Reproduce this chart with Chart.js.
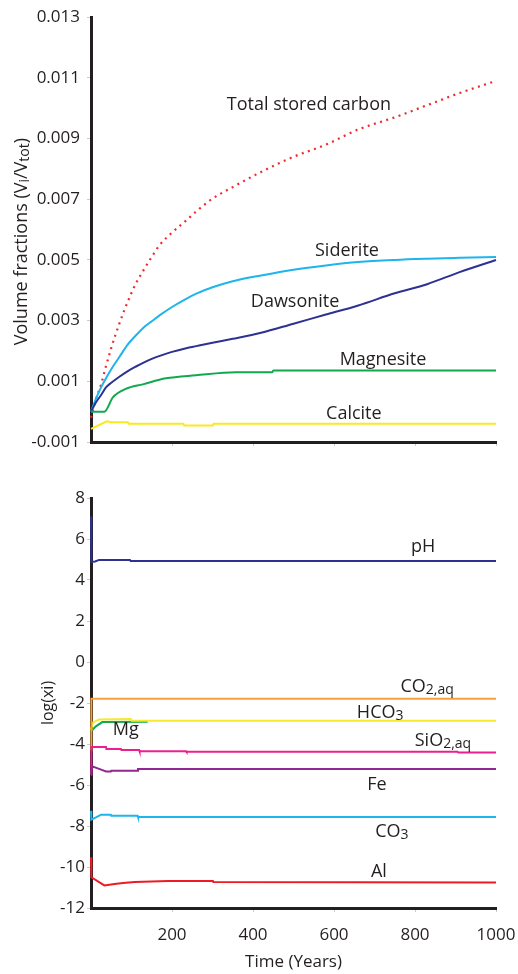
<!DOCTYPE html>
<html>
<head>
<meta charset="utf-8">
<script src="https://cdn.jsdelivr.net/npm/chart.js@4.4.1/dist/chart.umd.min.js"></script>
<style>
  html, body { margin: 0; padding: 0; background: #fff; }
  #topChart { position: absolute; left: 0; top: 0; }
  #botChart { position: absolute; left: 0; top: 470px; }
</style>
</head>
<body>
<canvas id="topChart" width="518" height="470"></canvas>
<canvas id="botChart" width="518" height="504"></canvas>
<script>
// ---- top panel: mineral volume fractions ----
const yearsTop = [0, 12, 25, 37, 50, 70, 90, 110, 135, 150, 170, 200, 235, 260, 300, 350, 420, 500, 580, 660, 750, 830, 910, 1000];
const totalCarbon = [-0.0002, 0.0004, 0.0009, 0.0015, 0.0021, 0.0029, 0.0036, 0.0042, 0.00478, 0.0051, 0.0055, 0.0059, 0.0063, 0.0066, 0.00702, 0.0074, 0.0079, 0.0084, 0.0088, 0.0093, 0.0097, 0.0101, 0.0105, 0.0109];
const siderite = [0, 0.00042, 0.0008, 0.0011, 0.0014, 0.0018, 0.0022, 0.0025, 0.00283, 0.00298, 0.00318, 0.00345, 0.00372, 0.00389, 0.0041, 0.0043, 0.00449, 0.00468, 0.00482, 0.00493, 0.0050, 0.00504, 0.00507, 0.0051];
const dawsonite = [0, 0.0003, 0.00055, 0.0008, 0.00095, 0.00115, 0.00133, 0.00148, 0.00165, 0.00174, 0.00184, 0.00197, 0.00209, 0.00216, 0.00227, 0.0024, 0.0026, 0.0029, 0.0032, 0.0035, 0.0039, 0.0042, 0.0046, 0.0050];
const yearsMagnesite = [0, 33, 54, 86, 128, 185, 259, 358, 448, 450, 1000];
const magnesite = [0, 0, 0.00047, 0.00075, 0.0009, 0.0011, 0.0012, 0.0013, 0.0013, 0.00136, 0.00136];
const yearsCalcite = [0, 39, 51, 91, 93, 228, 230, 301, 303, 1000];
const calcite = [-0.00057, -0.00032, -0.00035, -0.00035, -0.0004, -0.0004, -0.00046, -0.00046, -0.0004, -0.0004];
const topTicks = [-0.001, 0.001, 0.003, 0.005, 0.007, 0.009, 0.011, 0.013];
const topTickLabels = ['-0.001', '0.001', '0.003', '0.005', '0.007', '0.009', '0.011', '0.013'];

// ---- bottom panel: log of aqueous species ----
const yearsPH = [0, 1, 10, 20, 96, 98, 1000];
const pH = [7.1, 4.88, 4.9, 4.98, 4.98, 4.93, 4.93];
const yearsCO2 = [0, 1, 1000];
const co2aq = [-4.3, -1.79, -1.79];
const yearsHCO3 = [0, 5, 20, 98, 100, 1000];
const hco3 = [-3.3, -2.95, -2.8, -2.78, -2.86, -2.86];
const yearsMg = [0, 12, 28, 140];
const mg = [-3.38, -3.14, -2.93, -2.91];
const yearsSiO2 = [0, 1, 37, 38, 74, 75, 119, 120, 235, 236, 905, 907, 1000];
const sio2aq = [-5.5, -4.15, -4.15, -4.24, -4.24, -4.29, -4.29, -4.35, -4.35, -4.38, -4.38, -4.42, -4.42];
const yearsFe = [0, 3, 25, 37, 49, 50, 115, 116, 1000];
const fe = [-5.5, -5.09, -5.25, -5.34, -5.34, -5.3, -5.3, -5.22, -5.22];
const yearsCO3 = [0, 1, 5, 25, 49, 50, 115, 116, 1000];
const co3 = [-7.26, -7.69, -7.65, -7.45, -7.45, -7.5, -7.5, -7.56, -7.56];
const yearsAl = [0, 1, 33, 58, 79, 108, 190, 301, 302, 1000];
const al = [-9.52, -10.5, -10.9, -10.83, -10.78, -10.73, -10.68, -10.68, -10.73, -10.75];
const botTicks = [-12, -10, -8, -6, -4, -2, 0, 2, 4, 6, 8];
const timeTicks = [200, 400, 600, 800, 1000];

const FONT = "'Open Sans', sans-serif";
const INK = '#231f20';

function pts(xs, ys){
  return xs.map((t, i) => ({x: t, y: ys[i]}));
}

// text with _{...} subscripts, drawn on the canvas
function parts(str){
  const out = [];
  const re = /_\{([^}]*)\}/g;
  let last = 0, m;
  while((m = re.exec(str))){
    if(m.index > last) out.push({t: str.slice(last, m.index), sub: false});
    out.push({t: m[1], sub: true});
    last = re.lastIndex;
  }
  if(last < str.length) out.push({t: str.slice(last), sub: false});
  return out;
}

function drawRich(ctx, str, x, y, size){
  const segs = parts(str);
  const subSize = Math.round(size * 0.78);
  let w = 0;
  segs.forEach(s => {
    ctx.font = (s.sub ? subSize : size) + 'px ' + FONT;
    s.w = ctx.measureText(s.t).width;
    w += s.w;
  });
  let cx = x - w / 2;
  ctx.textAlign = 'left';
  ctx.textBaseline = 'alphabetic';
  segs.forEach(s => {
    ctx.font = (s.sub ? subSize : size) + 'px ' + FONT;
    ctx.fillText(s.t, cx, y + (s.sub ? 2 : 0));
    cx += s.w;
  });
}

const richLabels = {
  id: 'richLabels',
  afterDatasetsDraw(chart, args, opts){
    const {ctx, scales} = chart;
    ctx.save();
    ctx.fillStyle = INK;
    (opts.items || []).forEach(it => {
      drawRich(ctx, it.text, scales.x.getPixelForValue(it.at[0]), scales.y.getPixelForValue(it.at[1]), opts.size);
    });
    if(opts.sideTitle){
      const ca = chart.chartArea;
      ctx.translate(opts.sideTitle.x, (ca.top + ca.bottom) / 2 + opts.sideTitle.dy);
      ctx.rotate(-Math.PI / 2);
      drawRich(ctx, opts.sideTitle.text, 0, 0, opts.sideTitle.size);
    }
    ctx.restore();
  }
};

function line(data, color, extra){
  return Object.assign({data, borderColor: color, borderWidth: 2, pointRadius: 0, fill: false, tension: 0, clip: false}, extra || {});
}
const smooth = {cubicInterpolationMode: 'monotone'};

function axisX(showLabels, height){
  return {
    type: 'linear', min: 0, max: 1000,
    afterBuildTicks: s => { s.ticks = timeTicks.map(v => ({value: v})); },
    afterFit: s => { s.height = height; },
    // tall line height pushes the labels down without widening the side padding
    ticks: {display: showLabels, autoSkip: false, maxRotation: 0, padding: 0, color: INK, font: {family: FONT, size: 17, lineHeight: 2.7}, callback: v => String(v)},
    grid: {drawOnChartArea: false, drawTicks: true, tickLength: 4, tickColor: '#c9c9c9'},
    border: {color: INK, width: 3},
    title: {display: showLabels, text: 'Time (Years)', color: INK, font: {family: FONT, size: 17}, padding: {top: 0, bottom: 2}}
  };
}

function axisY(min, max, ticks, labels, pad){
  return {
    type: 'linear', min, max,
    afterBuildTicks: s => { s.ticks = ticks.map(v => ({value: v})); },
    afterFit: s => { s.width = 91; },
    ticks: {autoSkip: false, padding: pad, color: INK, font: {family: FONT, size: 17}, callback: (v, i) => labels[i]},
    grid: {drawOnChartArea: false, drawTicks: true, tickLength: 4, tickColor: '#c9c9c9'},
    border: {color: INK, width: 3}
  };
}

const common = {
  responsive: false,
  animation: false,
  events: [],
  plugins: {legend: {display: false}, tooltip: {enabled: false}}
};

new Chart(document.getElementById('topChart').getContext('2d'), {
  type: 'line',
  data: {
    datasets: [
      line(pts(yearsCalcite, calcite), '#f9ea1f'),
      line(pts(yearsMagnesite, magnesite), '#12a84f', smooth),
      line(pts(yearsTop, dawsonite), '#2e3192', smooth),
      line(pts(yearsTop, siderite), '#1eb4ec', smooth),
      line(pts(yearsTop, totalCarbon), '#ee2a2f', Object.assign({borderDash: [2, 4.5], borderWidth: 2.2}, smooth))
    ]
  },
  options: Object.assign({}, common, {
    layout: {padding: {top: 17, right: 22, left: 0, bottom: 0}},
    scales: {
      x: axisX(false, 28),
      y: axisY(-0.001, 0.013, topTicks, topTickLabels, 7)
    },
    plugins: Object.assign({}, common.plugins, {
      richLabels: {
        size: 18,
        items: [
          {text: 'Total stored carbon', at: [538, 0.00994]},
          {text: 'Siderite', at: [632, 0.00514]},
          {text: 'Dawsonite', at: [504, 0.00344]},
          {text: 'Magnesite', at: [721, 0.00155]},
          {text: 'Calcite', at: [649, -0.00024]}
        ],
        sideTitle: {text: 'Volume fractions (V_{i}/V_{tot})', x: 27, dy: 12, size: 18}
      }
    })
  }),
  plugins: [richLabels]
});

const botY = axisY(-12, 8, botTicks, botTicks.map(String), 2);
botY.title = {display: true, text: 'log(xi)', color: INK, font: {family: FONT, size: 16}, padding: {top: 39, bottom: 0}};

new Chart(document.getElementById('botChart').getContext('2d'), {
  type: 'line',
  data: {
    datasets: [
      line(pts(yearsAl, al), '#ed1c24'),
      line(pts(yearsCO3, co3), '#1eb4ec'),
      line(pts(yearsFe, fe), '#92278f'),
      line(pts(yearsSiO2, sio2aq), '#ec1f8e'),
      line(pts(yearsCO2, co2aq), '#f7a13a'),
      line(pts(yearsHCO3, hco3), '#f6ea2d'),
      line(pts(yearsMg, mg), '#12a84f'),
      line(pts(yearsPH, pH), '#2e3192')
    ]
  },
  options: Object.assign({}, common, {
    layout: {padding: {top: 28, right: 22, left: 0, bottom: 0}},
    scales: {
      x: axisX(true, 66),
      y: botY
    },
    plugins: Object.assign({}, common.plugins, {
      richLabels: {
        size: 18,
        items: [
          {text: 'pH', at: [820, 5.37]},
          {text: 'CO_{2,aq}', at: [830, -1.46]},
          {text: 'HCO_{3}', at: [714, -2.73]},
          {text: 'SiO_{2,aq}', at: [869, -4.12]},
          {text: 'Fe', at: [706, -6.26]},
          {text: 'CO_{3}', at: [743, -8.54]},
          {text: 'Al', at: [711, -10.5]},
          {text: 'Mg', at: [86, -3.55]}
        ]
      }
    })
  }),
  plugins: [richLabels]
});
</script>
</body>
</html>
